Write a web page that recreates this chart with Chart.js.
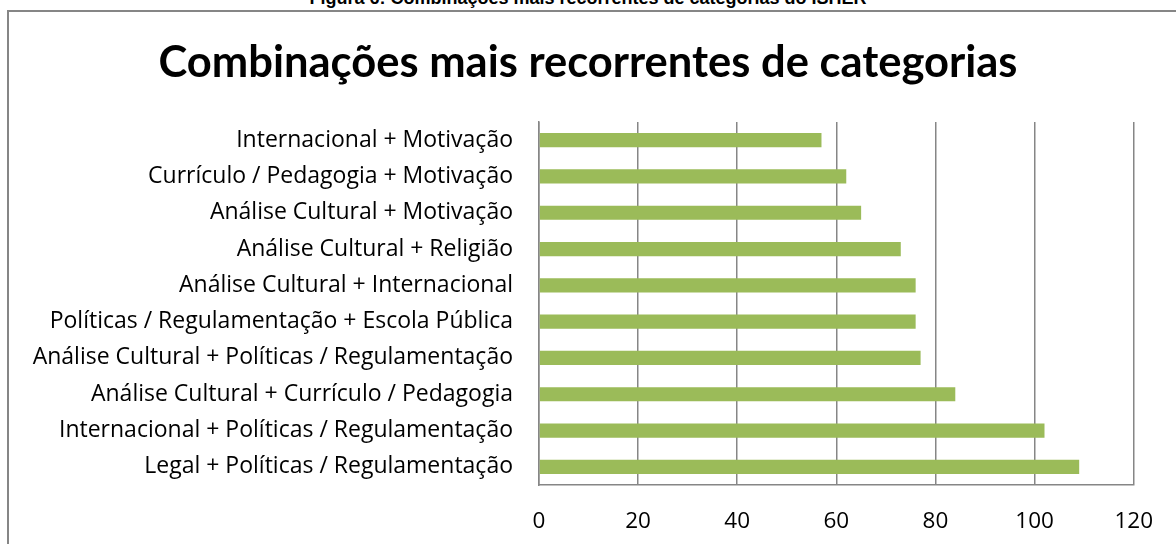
<!DOCTYPE html>
<html>
<head>
<meta charset="utf-8">
<script src="https://cdn.jsdelivr.net/npm/chart.js@4/dist/chart.umd.min.js"></script>
<style>
  html, body { margin: 0; padding: 0; background: #fff; }
  body { width: 1176px; height: 544px; position: relative; overflow: hidden; }
  #caption { position: absolute; left: 0; width: 1176px; top: -12px; text-align: center;
    font: bold 18px "Liberation Sans", Arial, sans-serif; color: #000; }
  #frame { position: absolute; left: 7px; top: 10px; width: 1200px; height: 600px;
    border-left: 2px solid #868686; border-top: 2px solid #868686; box-sizing: border-box; }
  #c { position: absolute; left: 0; top: 0; }
</style>
</head>
<body>
<div id="caption">Figura 6: Combinações mais recorrentes de categorias do ISHER</div>
<div id="frame"></div>
<canvas id="c" width="1176" height="544"></canvas>
<script>
const chartTitle = "Combinações mais recorrentes de categorias";
const categories = [
  "Internacional + Motivação",
  "Currículo / Pedagogia + Motivação",
  "Análise Cultural + Motivação",
  "Análise Cultural + Religião",
  "Análise Cultural + Internacional",
  "Políticas / Regulamentação + Escola Pública",
  "Análise Cultural + Políticas / Regulamentação",
  "Análise Cultural + Currículo / Pedagogia",
  "Internacional + Políticas / Regulamentação",
  "Legal + Políticas / Regulamentação"
];
const values = [57, 62, 65, 73, 76, 76, 77, 84, 102, 109];
const xMin = 0, xMax = 120, xStep = 20;

const TITLE_FONT = "Lato, 'Open Sans', sans-serif";
const LABEL_FONT = "'Open Sans', Lato, sans-serif";
new Chart(document.getElementById('c'), {
  type: 'bar',
  data: {
    labels: categories,
    datasets: [{
      data: values,
      backgroundColor: '#9BBB59',
      borderWidth: 0,
      categoryPercentage: 1,
      barPercentage: 0.39
    }]
  },
  options: {
    indexAxis: 'y',
    responsive: false,
    animation: false,
    devicePixelRatio: 1,
    layout: { padding: { left: 20, right: 20, top: 0, bottom: 0 } },
    plugins: {
      legend: { display: false },
      tooltip: { enabled: false },
      title: {
        display: true,
        text: chartTitle,
        color: '#000',
        font: { family: TITLE_FONT, size: 43.5, weight: 'bold', lineHeight: 1.2 },
        padding: { top: 37, bottom: 32.8 }
      }
    },
    scales: {
      x: {
        min: xMin, max: xMax,
        ticks: { stepSize: xStep, color: '#000', padding: 23, font: { family: LABEL_FONT, size: 22.5 } },
        grid: { color: '#868686', lineWidth: 1.5, drawTicks: false },
        border: { color: '#868686', width: 1.5 },
        afterFit: (s) => { s.height = 59; }
      },
      y: {
        ticks: { color: '#000', padding: 26, font: { family: LABEL_FONT, size: 23 } },
        grid: { display: false, drawTicks: false },
        border: { color: '#868686', width: 1.5 },
        afterFit: (s) => { s.width = 519; }
      },
      y2: {
        type: 'linear',
        position: 'right',
        ticks: { display: false },
        grid: { display: false, drawTicks: false },
        border: { display: false },
        afterFit: (s) => { s.width = 20; }
      }
    }
  }
});
</script>
</body>
</html>
